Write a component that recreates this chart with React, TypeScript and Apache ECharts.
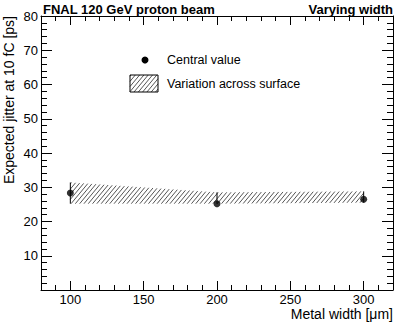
import React, { useEffect, useRef } from "react";
import * as echarts from "echarts";

const xs = [100, 200, 300];
const central = [28.3, 25.2, 26.5];
const bandUpper = [31.4, 28.5, 28.8];
const bandLower = [25.2, 25.2, 25.5];
const xMajorTicks = [100, 150, 200, 250, 300];

const FONT = "'Liberation Sans', Arial, Helvetica, sans-serif";
const K = 1.2; // hatch slope
const SP = 4.3; // hatch spacing (px, horizontal)
const HATCH_COLOR = "#555";

function hatchSegments(x0: number, x1: number, t0: number, t1: number, b0: number, b1: number, k: number, sp: number) {
  const out: number[][] = [];
  const mt = (t1 - t0) / (x1 - x0);
  const mb = (b1 - b0) / (x1 - x0);
  const cs = [x0 + t0 / k, x0 + b0 / k, x1 + t1 / k, x1 + b1 / k];
  const cmin = Math.min(...cs);
  const cmax = Math.max(...cs);
  for (let c = Math.ceil(cmin / sp) * sp; c <= cmax; c += sp) {
    let lo = x0;
    let hi = x1;
    const apply = (a: number, b: number) => {
      if (Math.abs(b) < 1e-9) {
        if (a < 0) { lo = 1; hi = 0; }
      } else if (b > 0) lo = Math.max(lo, -a / b);
      else hi = Math.min(hi, -a / b);
    };
    apply(k * c - t0 + mt * x0, -k - mt);
    apply(b0 - mb * x0 - k * c, mb + k);
    if (hi - lo > 0.2) out.push([lo, k * (c - lo), hi, k * (c - hi)]);
  }
  return out;
}

export default function App() {
  const ref = useRef<HTMLDivElement>(null);
  useEffect(() => {
    if (!ref.current) return;
    const chart = echarts.init(ref.current, null, { renderer: "svg" });
    const axisLine = { show: true, lineStyle: { color: "#000", width: 1 } };
    const legendHatch = hatchSegments(130, 158, 75, 75, 92, 92, K, SP).map((s) => ({
      type: "line",
      shape: { x1: s[0], y1: s[1], x2: s[2], y2: s[3] },
      style: { stroke: HATCH_COLOR, lineWidth: 1 },
    }));
    const option: any = {
      animation: false,
      backgroundColor: "#fff",
      grid: { left: 41, right: 22, top: 16, bottom: 32, containLabel: false },
      xAxis: [
        {
          type: "value", min: 80, max: 320, interval: 10, position: "bottom",
          axisLine, axisTick: { show: true, inside: true, length: 5, lineStyle: { color: "#000" } },
          axisLabel: { show: false }, splitLine: { show: false },
        },
        {
          type: "value", min: 80, max: 320, interval: 10, position: "bottom",
          axisLine: { show: false },
          axisTick: { show: true, inside: true, length: 9, customValues: xMajorTicks, lineStyle: { color: "#000" } },
          axisLabel: { show: true, customValues: xMajorTicks, color: "#000", fontSize: 13, fontFamily: FONT, margin: 3 },
          splitLine: { show: false },
        },
        {
          type: "value", min: 80, max: 320, interval: 10, position: "top",
          axisLine, axisTick: { show: true, inside: true, length: 5, lineStyle: { color: "#000" } },
          axisLabel: { show: false }, splitLine: { show: false },
        },
        {
          type: "value", min: 80, max: 320, interval: 10, position: "top",
          axisLine: { show: false },
          axisTick: { show: true, inside: true, length: 9, customValues: xMajorTicks, lineStyle: { color: "#000" } },
          axisLabel: { show: false }, splitLine: { show: false },
        },
      ],
      yAxis: [
        {
          type: "value", min: 0, max: 80, interval: 10, position: "left",
          axisLine, axisTick: { show: true, inside: true, length: 11, lineStyle: { color: "#000" } },
          minorTick: { show: true, splitNumber: 5, length: 6, lineStyle: { color: "#000" } },
          axisLabel: {
            show: true, color: "#000", fontSize: 13, fontFamily: FONT, margin: 3,
            formatter: (v: number) => (v === 0 ? "" : String(v)),
          },
          splitLine: { show: false }, minorSplitLine: { show: false },
        },
        {
          type: "value", min: 0, max: 80, interval: 10, position: "right",
          axisLine, axisTick: { show: true, inside: true, length: 11, lineStyle: { color: "#000" } },
          minorTick: { show: true, splitNumber: 5, length: 6, lineStyle: { color: "#000" } },
          axisLabel: { show: false },
          splitLine: { show: false }, minorSplitLine: { show: false },
        },
      ],
      series: [
        {
          type: "custom", xAxisIndex: 0, yAxisIndex: 0, z: 2,
          data: [[xs[0], bandUpper[0]]],
          encode: { x: 0, y: 1 },
          renderItem: (_params: any, api: any) => {
            const children: any[] = [];
            for (let i = 0; i < xs.length - 1; i++) {
              const p0t = api.coord([xs[i], bandUpper[i]]);
              const p0b = api.coord([xs[i], bandLower[i]]);
              const p1t = api.coord([xs[i + 1], bandUpper[i + 1]]);
              const p1b = api.coord([xs[i + 1], bandLower[i + 1]]);
              hatchSegments(p0t[0], p1t[0], p0t[1], p1t[1], p0b[1], p1b[1], K, SP).forEach((s) => {
                children.push({
                  type: "line",
                  shape: { x1: s[0], y1: s[1], x2: s[2], y2: s[3] },
                  style: { stroke: HATCH_COLOR, lineWidth: 1 },
                });
              });
            }
            return { type: "group", children };
          },
        },
        {
          type: "custom", xAxisIndex: 0, yAxisIndex: 0, z: 3,
          data: xs.map((x, i) => [x, bandLower[i], bandUpper[i]]),
          encode: { x: 0, y: [1, 2] },
          renderItem: (_params: any, api: any) => {
            const a = api.coord([api.value(0), api.value(1)]);
            const b = api.coord([api.value(0), api.value(2)]);
            return {
              type: "line",
              shape: { x1: a[0], y1: a[1], x2: b[0], y2: b[1] },
              style: { stroke: "#000", lineWidth: 1 },
            };
          },
        },
        {
          type: "scatter", xAxisIndex: 0, yAxisIndex: 0, z: 4,
          symbol: "circle", symbolSize: 7,
          itemStyle: { color: "#000" },
          data: xs.map((x, i) => [x, central[i]]),
        },
      ],
      graphic: [
        {
          type: "text", x: 43, y: 9,
          style: { text: "FNAL 120 GeV proton beam", fontSize: 13, fontWeight: "bold", fontFamily: FONT, fill: "#000", textAlign: "left", textVerticalAlign: "middle" },
        },
        {
          type: "text", x: 393, y: 9,
          style: { text: "Varying width", fontSize: 13, fontWeight: "bold", fontFamily: FONT, fill: "#000", textAlign: "right", textVerticalAlign: "middle" },
        },
        {
          type: "text", x: 393, y: 314,
          style: { text: "Metal width [\u03bcm]", fontSize: 14, fontFamily: FONT, fill: "#000", textAlign: "right", textVerticalAlign: "middle" },
        },
        {
          type: "text", x: 9, y: 16, rotation: Math.PI / 2,
          style: { text: "Expected jitter at 10 fC [ps]", fontSize: 14, fontFamily: FONT, fill: "#000", textAlign: "right", textVerticalAlign: "middle" },
        },
        { type: "circle", shape: { cx: 145, cy: 60, r: 3.5 }, style: { fill: "#000" } },
        {
          type: "text", x: 167, y: 60,
          style: { text: "Central value", fontSize: 12.5, fontFamily: FONT, fill: "#000", textAlign: "left", textVerticalAlign: "middle" },
        },
        {
          type: "group",
          children: [
            ...legendHatch,
            { type: "rect", shape: { x: 130, y: 75, width: 28, height: 17 }, style: { fill: "none", stroke: "#000", lineWidth: 1 } },
          ],
        },
        {
          type: "text", x: 167, y: 84,
          style: { text: "Variation across surface", fontSize: 12.5, fontFamily: FONT, fill: "#000", textAlign: "left", textVerticalAlign: "middle" },
        },
      ],
    };
    chart.setOption(option);
    return () => chart.dispose();
  }, []);
  return <div ref={ref} style={{ position: "absolute", left: 0, top: 0, width: 415, height: 322 }} />;
}
